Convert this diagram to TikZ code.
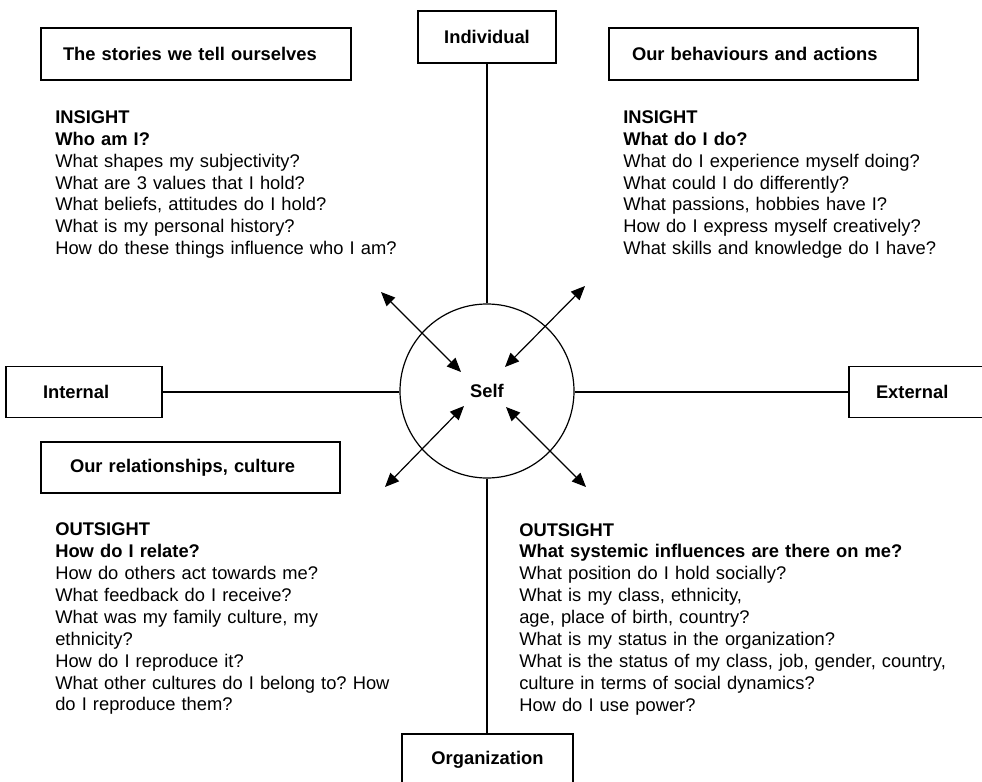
\documentclass[tikz,border=0pt]{standalone}
\usepackage{fontspec}
\setmainfont{Liberation Sans}
\usetikzlibrary{arrows.meta}
\frenchspacing
\tikzset{
  box/.style={draw, line width=0.9pt, font=\bfseries\fontsize{13.75pt}{16.43pt}\selectfont, minimum height=39pt, inner ysep=0pt},
  lbox/.style={box, align=left},
  qtext/.style={anchor=base west, align=left, inner sep=0pt, font=\fontsize{13.75pt}{16.43pt}\selectfont},
  conn/.style={line width=0.9pt},
  dbl/.style={line width=0.9pt, {Triangle[length=10.5pt,width=9pt]}-{Triangle[length=10.5pt,width=9pt]}}
}
\begin{document}
\begin{tikzpicture}[x=0.75pt, y=-0.75pt]
\useasboundingbox (0,0) rectangle (982,782);
% boxes
\node[lbox, inner xsep=16.5pt, text width=199.5pt] (stories) at (196,54) {The stories we tell ourselves};
\node[lbox, inner xsep=17.25pt, text width=197.25pt] (behav) at (763.5,54) {Our behaviours and actions};
\node[lbox, inner xsep=21.75pt, text width=180.75pt, minimum height=38.25pt] (relat) at (190.5,467.5) {Our relationships, culture};
\node[lbox, inner xsep=27.75pt, text width=61.5pt, minimum height=38.25pt] (internal) at (84,392) {Internal};
\node[lbox, inner xsep=20.25pt, text width=65.25pt, minimum height=38.25pt] (external) at (919.5,392) {External};
\node[box, minimum width=103.5pt] (indiv) at (487,37) {Individual};
\node[box, minimum width=128.25pt] (org) at (487.5,760) {Organization};
% self
\node[draw, circle, line width=0.9pt, minimum size=130.5pt, inner sep=0pt, font=\bfseries\fontsize{13.75pt}{16.43pt}\selectfont] (self) at (487,391) {Self};
% axes
\draw[conn] (indiv.south) -- (self.north);
\draw[conn] (self.south) -- (org.north -| self.south);
\draw[conn] (internal.east) -- (self.west |- internal.east);
\draw[conn] (self.east |- external.west) -- (external.west);
% arrows
\coordinate (tlA) at (381,292); \coordinate (tlB) at (461,372);
\coordinate (blA) at (385,487); \coordinate (blB) at (464,406);
\coordinate (trA) at (585,286); \coordinate (trB) at (505,367);
\coordinate (brA) at (506,407); \coordinate (brB) at (586,487);
\draw[dbl] (tlA) -- (tlB);
\draw[dbl] (blA) -- (blB);
\draw[dbl] (trA) -- (trB);
\draw[dbl] (brA) -- (brB);
% question texts
\node[qtext, text width=270pt] (qtl) at (55,123.3) {\textbf{INSIGHT}\\\textbf{Who am I?}\\What shapes my subjectivity?\\What are 3 values that I hold?\\What beliefs, attitudes do I hold?\\What is my personal history?\\How do these things influence who I am?};
\node[qtext, text width=260pt] (qtr) at (623,123.3) {\textbf{INSIGHT}\\\textbf{What do I do?}\\What do I experience myself doing?\\What could I do differently?\\What passions, hobbies have I?\\How do I express myself creatively?\\What skills and knowledge do I have?};
\node[qtext, text width=270pt] (qbl) at (55,535.7) {\textbf{OUTSIGHT}\\\textbf{How do I relate?}\\How do others act towards me?\\What feedback do I receive?\\What was my family culture, my\\ethnicity?\\How do I reproduce it?\\What other cultures do I belong to? How\\do I reproduce them?};
\node[qtext, text width=340pt] (qbr) at (519,536) {\textbf{OUTSIGHT}\\\textbf{What systemic influences are there on me?}\\What position do I hold socially?\\What is my class, ethnicity,\\age, place of birth, country?\\What is my status in the organization?\\What is the status of my class, job, gender, country,\\culture in terms of social dynamics?\\How do I use power?};
\end{tikzpicture}
\end{document}
